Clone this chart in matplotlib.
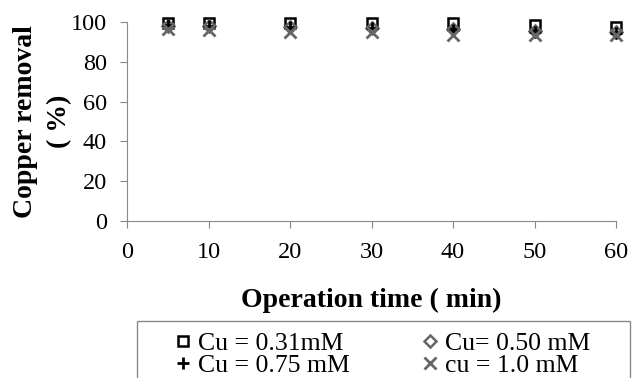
import matplotlib
matplotlib.use("Agg")
import matplotlib.pyplot as plt
from matplotlib.patches import Rectangle

plt.rcParams["font.family"] = ["Liberation Serif", "DejaVu Serif"]

time = [5, 10, 20, 30, 40, 50, 60]
cu031 = [99.5, 99.5, 99.6, 99.7, 99.6, 98.5, 97.5]
cu050 = [98.0, 98.0, 97.5, 97.0, 96.5, 95.5, 95.0]
cu075 = [98.5, 98.0, 97.5, 97.0, 96.0, 95.0, 94.5]
cu100 = [96.5, 96.0, 95.0, 95.0, 93.5, 93.5, 93.5]

labels = ["Cu = 0.31mM", "Cu= 0.50 mM", "Cu = 0.75 mM", "cu = 1.0 mM"]
xticks = [0, 10, 20, 30, 40, 50, 60]
yticks = [0, 20, 40, 60, 80, 100]

W, H = 639, 378
fig = plt.figure(figsize=(W / 100, H / 100), dpi=100)
ax = fig.add_axes([127 / W, 1 - 221 / H, 489 / W, 199 / H])

h1, = ax.plot(time, cu031, ls="none", marker="s", ms=7, mfc="none", mec="black", mew=1.8, clip_on=False)
h2, = ax.plot(time, cu050, ls="none", marker="D", ms=6, mfc="none", mec="#666666", mew=1.8, clip_on=False)
h3, = ax.plot(time, cu075, ls="none", marker="+", ms=9, mec="black", mew=2, clip_on=False)
h4, = ax.plot(time, cu100, ls="none", marker="x", ms=8, mec="#666666", mew=2, clip_on=False)

ax.set_xlim(0, 60)
ax.set_ylim(0, 100)
ax.set_xticks(xticks)
ax.set_yticks(yticks)
ax.tick_params(labelsize=17.5, color="#888888", direction="out", length=5)
ax.tick_params(axis="x", pad=10)
ax.tick_params(axis="y", pad=9.5)
for s in ["top", "right"]:
    ax.spines[s].set_visible(False)
for s in ["left", "bottom"]:
    ax.spines[s].set_color("#888888")

ax.set_xlabel("Operation time ( min)", fontsize=20, fontweight="bold", labelpad=18)
ax.set_ylabel("Copper removal\n( %)", fontsize=20, fontweight="bold", labelpad=-1, linespacing=1.5)

# legend box drawn separately, runs off the bottom edge like the original
fig.patches.append(Rectangle((137 / W, -0.05), 493 / W, 0.05 + 1 - 321 / H,
                             transform=fig.transFigure, fill=False,
                             edgecolor="#888888", lw=1))

# legend fills column-wise, so order handles to get rows like the original
leg = fig.legend(
    [h1, h3, h2, h4],
    [labels[0], labels[2], labels[1], labels[3]],
    ncol=2,
    loc="upper left",
    bbox_to_anchor=(175 / W, 1 - 332 / H),
    fontsize=18.5,
    frameon=False,
    handlelength=0.6,
    handletextpad=0.3,
    borderpad=0,
    borderaxespad=0,
    labelspacing=-0.05,
    columnspacing=2.8,
)

fig.savefig("out.png", dpi=100)
